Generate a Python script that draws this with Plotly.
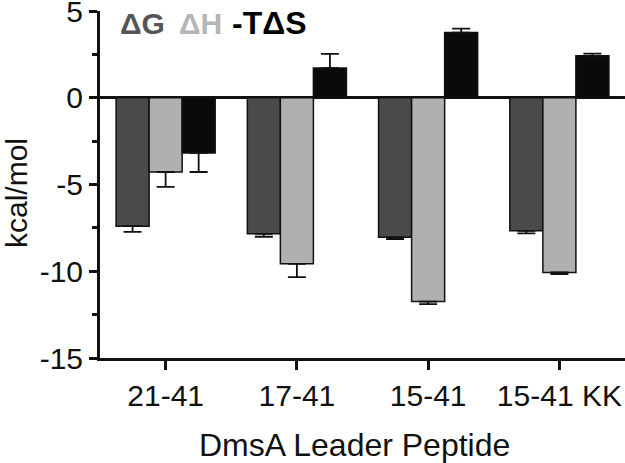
import plotly.graph_objects as go

categories = ["21-41", "17-41", "15-41", "15-41 KK"]
series_names = ["ΔG", "ΔH", "-TΔS"]
dG = [-7.40, -7.84, -8.04, -7.67]
dG_err = [0.33, 0.17, 0.10, 0.15]
dH = [-4.28, -9.57, -11.75, -10.07]
dH_err = [0.86, 0.77, 0.15, 0.10]
mTdS = [-3.18, 1.71, 3.76, 2.42]
mTdS_err = [1.10, 0.82, 0.23, 0.12]
y_ticks = [5, 0, -5, -10, -15]
y_tick_labels = ["5", "0", "-5", "-10", "-15"]

colors = ["#4a4a4a", "#b0b0b0", "#0a0a0a"]
legend_colors = ["#555555", "#b5b5b5", "#000000"]
FONT = "Liberation Sans, Arial, sans-serif"


def one_sided(values, errs):
    plus = [e if v >= 0 else 0 for v, e in zip(values, errs)]
    minus = [e if v < 0 else 0 for v, e in zip(values, errs)]
    return plus, minus


fig = go.Figure()
for name, vals, errs, col in zip(series_names, [dG, dH, mTdS], [dG_err, dH_err, mTdS_err], colors):
    plus, minus = one_sided(vals, errs)
    fig.add_trace(go.Bar(
        name=name, x=categories, y=vals,
        marker=dict(color=col, line=dict(color="#111111", width=1.5)),
        error_y=dict(type="data", symmetric=False, array=plus, arrayminus=minus,
                     color="#111111", thickness=1.8, width=9),
        showlegend=False,
    ))

fig.update_layout(
    width=625, height=463,
    margin=dict(l=100, r=0, t=11, b=105),
    plot_bgcolor="white", paper_bgcolor="white",
    barmode="group", bargap=0.245, bargroupgap=0,
    font=dict(family=FONT, size=30, color="#111111"),
    xaxis=dict(
        range=[-0.5, 3.5], showline=True, linecolor="#111111", linewidth=3,
        ticks="outside", ticklen=9, tickwidth=3, tickcolor="#111111",
        showgrid=False, zeroline=False, automargin=False,
        tickfont=dict(family=FONT, size=30, color="#111111"),
    ),
    yaxis=dict(
        range=[-15, 5.001], tickmode="array", tickvals=y_ticks, ticktext=y_tick_labels,
        showline=True, linecolor="#111111", linewidth=3,
        ticks="outside", ticklen=8, tickwidth=3, tickcolor="#111111",
        showgrid=False, zeroline=True, zerolinecolor="#111111", zerolinewidth=3,
        minor=dict(dtick=2.5, ticks="outside", ticklen=5, tickwidth=3, tickcolor="#111111"),
        automargin=False, ticklabeloverflow="allow",
        tickfont=dict(family=FONT, size=30, color="#111111"),
    ),
)

fig.add_annotation(text="kcal/mol", xref="paper", yref="paper", x=(16 - 100) / 525, y=(358 - 193) / 347,
                   xanchor="center", yanchor="middle", textangle=-90, showarrow=False,
                   font=dict(family=FONT, size=30, color="#111111"))
fig.add_annotation(text="DmsA Leader Peptide", xref="paper", yref="paper",
                   x=(354.5 - 100) / 525, y=(358 - 445) / 347, xanchor="center", yanchor="middle",
                   showarrow=False, font=dict(family=FONT, size=32, color="#111111"))

leg_x = [118, 177, 230]
leg_size = [30, 30, 32]
for name, col, px, sz in zip(series_names, legend_colors, leg_x, leg_size):
    fig.add_annotation(text="<b>" + name + "</b>", xref="paper", yref="paper",
                       x=(px - 100) / 525, y=(358 - 23) / 347, xanchor="left", yanchor="middle",
                       showarrow=False, font=dict(family=FONT, size=sz, color=col))

fig.write_html("out.html", config={"displayModeBar": False},
               post_script="document.body.style.margin='0';document.body.style.overflow='hidden';")
